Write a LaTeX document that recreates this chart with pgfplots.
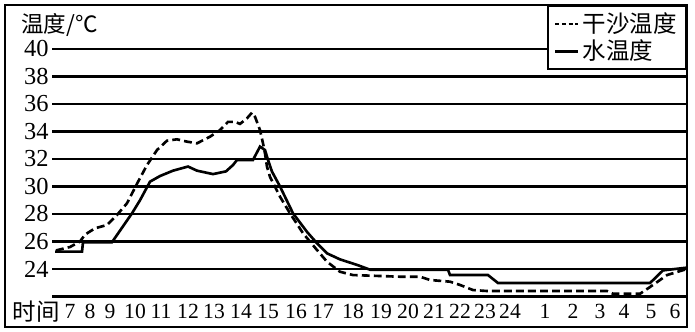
\documentclass[border=0pt]{standalone}
\usepackage{fontspec}
\setmainfont{Liberation Serif}
\newfontfamily\cjk{Noto Sans CJK SC}
\usepackage{pgfplots}
\pgfplotsset{compat=1.18}
\begin{document}
\begin{tikzpicture}
\begin{axis}[
  width=13cm, height=6.21cm, scale only axis,
  xmin=0, xmax=695, ymin=19.42, ymax=43.56,
  axis line style={draw=none}, ticks=none,
  clip=false,
  legend style={at={(axis cs:687,43.2)}, anchor=north east, draw=black, line width=1.1pt,
    fill=white, font=\cjk\fontsize{12.5}{14}\selectfont, inner xsep=3pt, inner ysep=1.5pt,
    row sep=-1.5pt, cells={anchor=west}},
  legend image code/.code={\draw[#1] (0cm,0cm) -- (0.42cm,0cm);},
]
\path (axis cs:0,19.42) rectangle (axis cs:695,43.56);
\pgfplotsinvokeforeach{22,24,...,40}{\draw[line width=1.4pt] (axis cs:52,#1) -- (axis cs:687,#1);}
% sand (dashed)
\addplot[black, line width=1.4pt, dash pattern=on 4.2pt off 2.2pt,
  legend image post style={line width=1.1pt, dash pattern=on 2.2pt off 1.4pt}] coordinates {
(56,25.35) (70,25.6) (80,26.0) (85,26.5) (95,26.96) (107,27.2) (117,27.93) (127,28.78)
(137,30.2) (147,31.56) (157,32.65) (167,33.33) (177,33.43) (187,33.26) (197,33.14)
(210,33.62) (220,34.1) (228,34.7) (235,34.7) (240,34.55) (247,34.96) (252,35.37)
(255,35.07) (260,34.1) (263,33.14) (265,32.4) (267,31.44) (270,30.7) (280,29.26)
(290,28.05) (303,26.6) (317,25.38) (327,24.53) (340,23.8) (353,23.56) (400,23.44)
(420,23.44) (430,23.2) (450,23.08) (460,22.84) (473,22.47) (487,22.4) (607,22.4)
(613,22.2) (640,22.2) (653,22.84) (667,23.56) (680,23.85) (687,24.0)};
\addlegendentry{干沙温度}
% water (solid)
\addplot[black, line width=1.4pt] coordinates {
(55,25.26) (82,25.26) (83,25.95) (112,25.95) (122,27.0) (132,28.05) (140,29.0)
(150,30.35) (160,30.76) (173,31.15) (188,31.45) (197,31.15) (213,30.9) (226,31.1)
(233,31.56) (237,31.93) (253,31.93) (260,32.9) (265,32.65) (268,31.93) (272,31.08)
(280,30.0) (293,28.05) (307,26.7) (317,25.87) (327,25.14) (340,24.7) (357,24.3)
(370,23.95) (448,23.95) (450,23.56) (488,23.56) (498,22.98) (650,22.98) (663,23.9)
(687,24.1)};
\addlegendentry{水温度}
% frame
\draw[line width=1.1pt] (axis cs:5,19.78) rectangle (axis cs:687,43.2);
% y labels
\pgfplotsinvokeforeach{24,26,...,40}{\node[anchor=east, inner sep=0pt, font=\fontsize{13}{15}\selectfont] at (axis cs:49,#1) {#1};}
\node[anchor=west, inner sep=0pt, font=\cjk\fontsize{12}{14}\selectfont] at (axis cs:21,41.75) {温度/℃};
\node[inner sep=0pt, font=\cjk\fontsize{12.5}{14}\selectfont] at (axis cs:36,20.9) {时间};
% x labels
\begin{scope}[every node/.style={inner sep=0pt, font=\fontsize{11.5}{14}\selectfont}]
\node at (axis cs:70,20.9) {7};
\node at (axis cs:90,20.9) {8};
\node at (axis cs:110,20.9) {9};
\node at (axis cs:135,20.9) {10};
\node at (axis cs:161,20.9) {11};
\node at (axis cs:188,20.9) {12};
\node at (axis cs:214,20.9) {13};
\node at (axis cs:241,20.9) {14};
\node at (axis cs:268,20.9) {15};
\node at (axis cs:296,20.9) {16};
\node at (axis cs:323,20.9) {17};
\node at (axis cs:353,20.9) {18};
\node at (axis cs:381,20.9) {19};
\node at (axis cs:408,20.9) {20};
\node at (axis cs:434,20.9) {21};
\node at (axis cs:460,20.9) {22};
\node at (axis cs:485,20.9) {23};
\node at (axis cs:510,20.9) {24};
\node at (axis cs:545,20.9) {1};
\node at (axis cs:573,20.9) {2};
\node at (axis cs:600,20.9) {3};
\node at (axis cs:624,20.9) {4};
\node at (axis cs:651,20.9) {5};
\node at (axis cs:675,20.9) {6};
\end{scope}
\end{axis}
\end{tikzpicture}
\end{document}
